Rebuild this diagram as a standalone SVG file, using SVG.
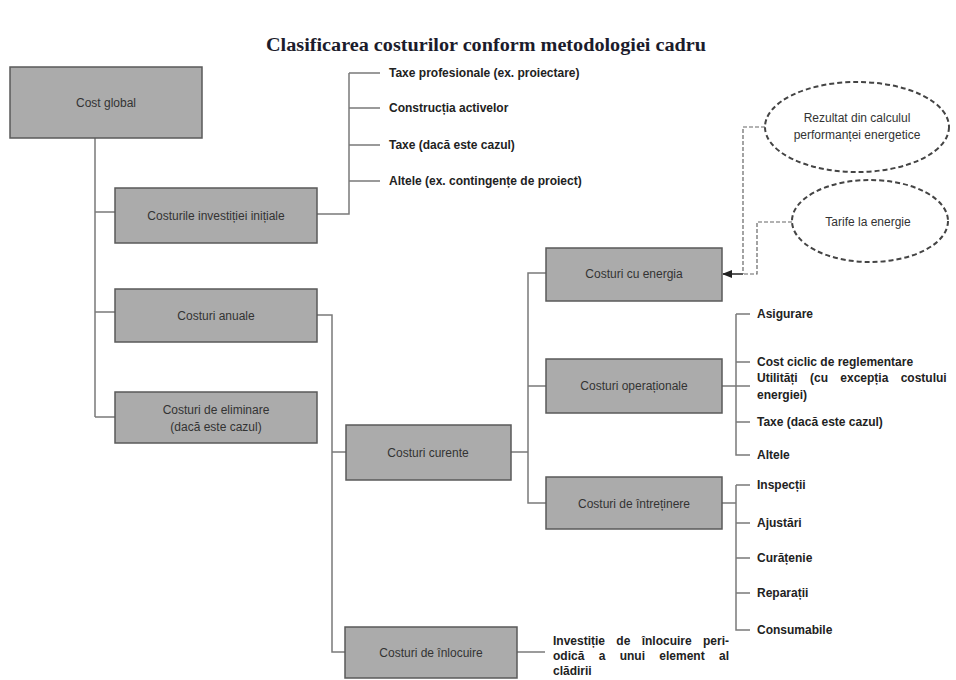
<svg xmlns="http://www.w3.org/2000/svg" width="956" height="680" viewBox="0 0 956 680">
<defs>
<style>
.box{fill:#ababab;stroke:#5a5a5a;stroke-width:1.5}
.bt{font-family:"Liberation Sans",Arial,sans-serif;font-size:12px;fill:#333;text-anchor:middle}
.lf{font-family:"Liberation Sans",Arial,sans-serif;font-size:12px;font-weight:bold;fill:#222}
.ln{fill:none;stroke:#7a7a7a;stroke-width:1.5}
.dl{fill:none;stroke:#666;stroke-width:1.2;stroke-dasharray:4,2}
.el{fill:#fff;stroke:#444;stroke-width:2;stroke-dasharray:5,3}
</style>
<marker id="ah" markerWidth="10" markerHeight="8" refX="9" refY="4" orient="auto" markerUnits="userSpaceOnUse">
<path d="M0,0 L10,4 L0,8 z" fill="#222"/>
</marker>
</defs>
<rect width="956" height="680" fill="#fff"/>
<text x="486" y="51" font-family="Liberation Serif,serif" font-size="18" font-weight="bold" fill="#1c1c2c" text-anchor="middle" textLength="440" lengthAdjust="spacingAndGlyphs">Clasificarea costurilor conform metodologiei cadru</text>

<g id="connectors">
<path class="ln" d="M95,138 V417 M95,212 H115 M95,312 H115 M95,417 H115"/>
<path class="ln" d="M317,214 H349 V73 M349,73 H380 M349,108 H380 M349,145 H380 M349,181 H380"/>
<path class="ln" d="M317,315 H332 V652 H345 M332,452 H346"/>
<path class="ln" d="M517,652 H545"/>
<path class="ln" d="M511,452 H528 M546,273 H528 V503 H546 M528,386 H546"/>
<path class="ln" d="M722,386 H750 M736,314 V455 H750 M736,314 H750 M736,362 H750 M736,422 H750"/>
<path class="ln" d="M722,503 H736 M736,485 V630 H750 M736,485 H750 M736,523 H750 M736,558 H750 M736,593 H750"/>
<path d="M743,274 H723" fill="none" stroke="#222" stroke-width="1.5" marker-end="url(#ah)"/>
<path class="dl" d="M765,127 H743 V274"/>
<path class="dl" d="M792,222 H757 V274 H743"/>
</g>

<g id="cost-global"><rect class="box" x="10" y="67" width="192" height="71"/><text class="bt" x="106" y="107">Cost global</text></g>
<g id="investitie"><rect class="box" x="115" y="188" width="202" height="55"/><text class="bt" x="216" y="220">Costurile investiției inițiale</text></g>
<g id="anuale"><rect class="box" x="115" y="289" width="202" height="53"/><text class="bt" x="216" y="320">Costuri anuale</text></g>
<g id="eliminare"><rect class="box" x="115" y="392" width="202" height="51"/><text class="bt" x="216" y="414">Costuri de eliminare</text><text class="bt" x="216" y="431">(dacă este cazul)</text></g>
<g id="curente"><rect class="box" x="346" y="425" width="165" height="55"/><text class="bt" x="428" y="457">Costuri curente</text></g>
<g id="inlocuire"><rect class="box" x="345" y="627" width="172" height="51"/><text class="bt" x="431" y="657">Costuri de înlocuire</text></g>
<g id="energia"><rect class="box" x="546" y="248" width="176" height="53"/><text class="bt" x="634" y="278">Costuri cu energia</text></g>
<g id="operationale"><rect class="box" x="546" y="359" width="176" height="54"/><text class="bt" x="634" y="390">Costuri operaționale</text></g>
<g id="intretinere"><rect class="box" x="546" y="477" width="176" height="52"/><text class="bt" x="634" y="508">Costuri de întreținere</text></g>

<g id="ellipse-performanta"><ellipse class="el" cx="857" cy="127" rx="92" ry="45"/><text class="bt" x="857" y="122">Rezultat din calculul</text><text class="bt" x="857" y="139">performanței energetice</text></g>
<g id="ellipse-tarife"><ellipse class="el" cx="870" cy="221" rx="78" ry="41"/><text class="bt" x="868" y="226">Tarife la energie</text></g>

<g id="leaves-investitie">
<text class="lf" x="389" y="77">Taxe profesionale (ex. proiectare)</text>
<text class="lf" x="389" y="112">Construcția activelor</text>
<text class="lf" x="389" y="149">Taxe (dacă este cazul)</text>
<text class="lf" x="389" y="185">Altele (ex. contingențe de proiect)</text>
</g>
<g id="leaves-operationale">
<text class="lf" x="757" y="318">Asigurare</text>
<text class="lf" x="757" y="366">Cost ciclic de reglementare</text>
<text class="lf" x="757" y="382" word-spacing="9">Utilități (cu excepția costului</text>
<text class="lf" x="757" y="399">energiei)</text>
<text class="lf" x="757" y="426">Taxe (dacă este cazul)</text>
<text class="lf" x="757" y="459">Altele</text>
</g>
<g id="leaves-intretinere">
<text class="lf" x="757" y="489">Inspecții</text>
<text class="lf" x="757" y="527">Ajustări</text>
<text class="lf" x="757" y="562">Curățenie</text>
<text class="lf" x="757" y="597">Reparații</text>
<text class="lf" x="757" y="634">Consumabile</text>
</g>
<g id="leaf-inlocuire">
<text class="lf" x="553" y="645" word-spacing="8">Investiție de înlocuire peri-</text>
<text class="lf" x="553" y="660" word-spacing="11">odică a unui element al</text>
<text class="lf" x="553" y="675">clădirii</text>
</g>
</svg>
